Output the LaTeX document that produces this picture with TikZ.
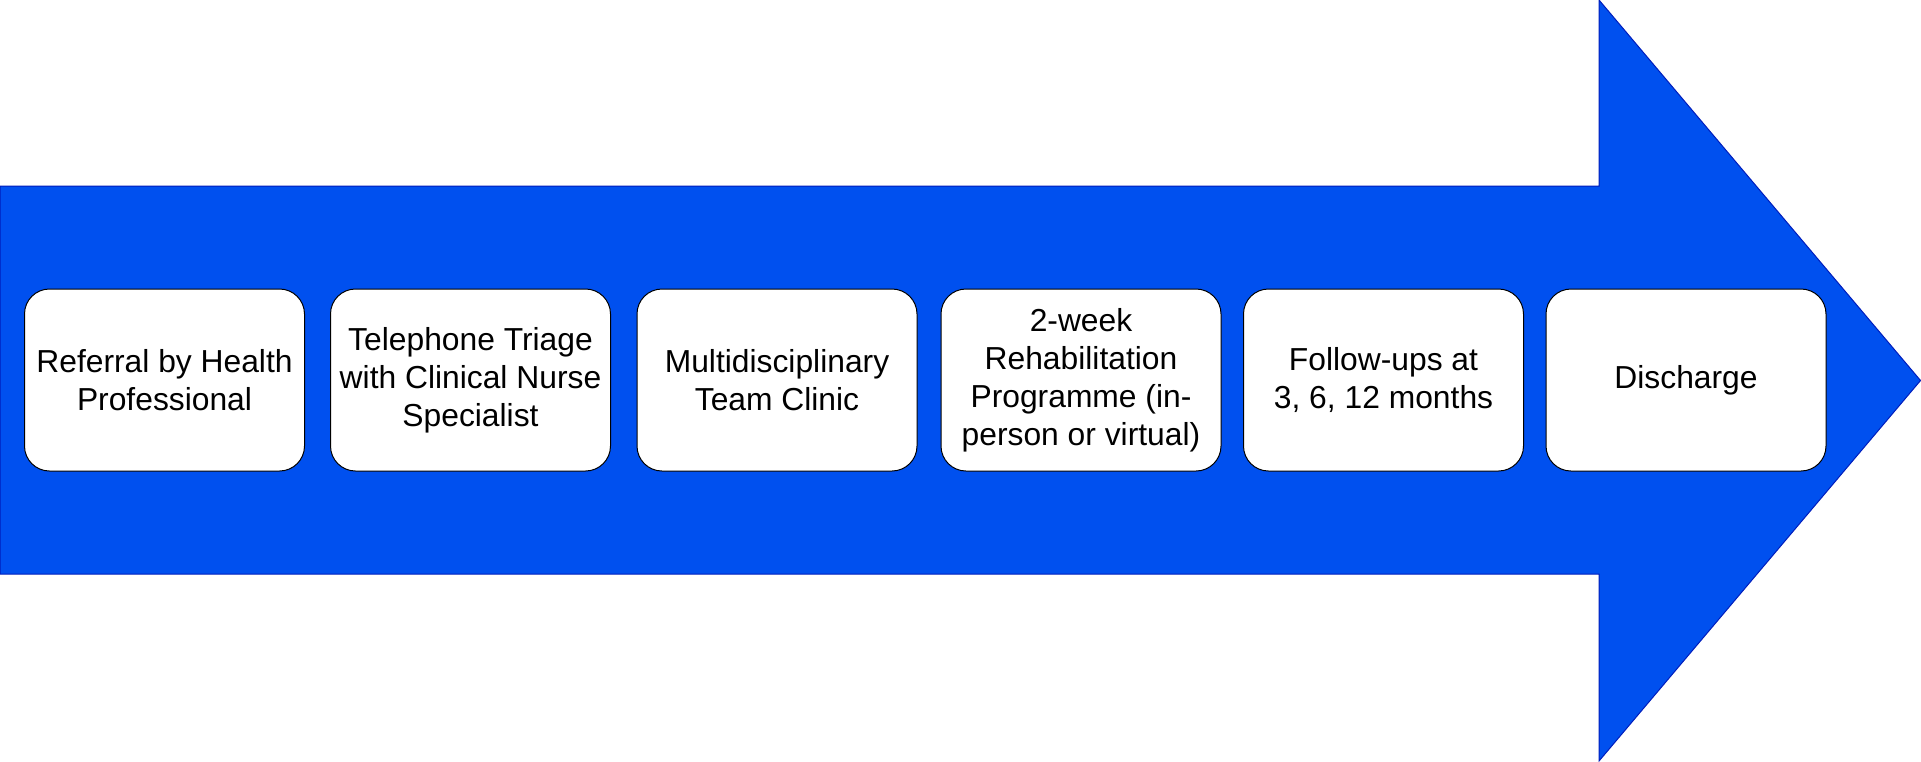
\documentclass[tikz,border=0pt]{standalone}
\usepackage{fontspec}
\setmainfont{Liberation Sans}
\definecolor{arrowfill}{HTML}{0050EF}
\definecolor{arrowline}{HTML}{001DBC}
\begin{document}
\begin{tikzpicture}[x=0.5pt,y=-0.5pt,
  stepbox/.style={draw=black,line width=0.5pt,fill=white,rounded corners=12.5pt,
    minimum width=140pt,minimum height=91pt,inner sep=0pt,align=center,
    font=\fontsize{15.9}{19}\selectfont,text=black}]
\useasboundingbox (0,0) rectangle (1921,761);
\fill[white] (0,0) rectangle (1921,761);
\draw[fill=arrowfill,draw=arrowline,line width=0.5pt]
  (0,186) -- (1599,186) -- (1599,0) -- (1920.5,380.5) -- (1599,761) -- (1599,574) -- (0,574) -- cycle;
\node[stepbox] (b1) at (164.5,380) {Referral by Health\\Professional};
\node[stepbox] (b2) at (470.5,380) {Telephone Triage\\with Clinical Nurse\\Specialist};
\node[stepbox] (b3) at (777,380) {Multidisciplinary\\Team Clinic};
\node[stepbox] (b4) at (1081,380) {2-week\\Rehabilitation\\Programme (in-\\person or virtual)};
\node[stepbox] (b5) at (1383.5,380) {Follow-ups at\\3, 6, 12 months};
\node[stepbox] (b6) at (1686,380) {Discharge};
\end{tikzpicture}
\end{document}
